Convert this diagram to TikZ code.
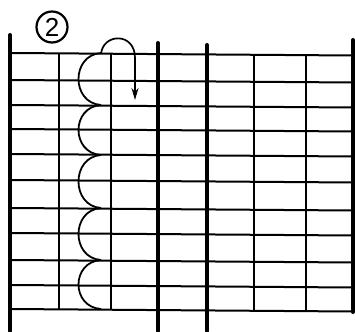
\documentclass[tikz,border=0pt]{standalone}
\usepackage{fontspec}
\setmainfont{Liberation Sans}
\usetikzlibrary{arrows.meta}
\begin{document}
\begin{tikzpicture}[x=1pt,y=-1pt,
  thickline/.style={line width=4pt,line cap=round},
  thinline/.style={line width=2pt},
  scallop/.style={line width=1.8pt},
  loopline/.style={line width=1.7pt,-{Stealth[length=12pt,width=7pt]}}]
\useasboundingbox (0,0) rectangle (355,331);
% horizontal lines (slight slope to the right)
\foreach \y in {53,80,105,129,154,180,208,233,260,285,309}
  \draw[thinline] (10,\y) -- (353,\y+2.5);
% thin verticals on the left
\foreach \x in {59,111}
  \draw[thinline] (\x,{53+2.5*(\x-10)/343}) -- (\x,{309+2.5*(\x-10)/343});
% thin verticals on the right
\foreach \x in {254,306}
  \draw[thinline] (\x,{53+2.5*(\x-10)/343}) -- (\x,{309+2.5*(\x-10)/343});
% thick verticals
\draw[thickline] (10,35) -- (10,331);
\draw[thickline] (158,43) -- (158,331);
\draw[thickline] (207,45) -- (207,331);
\draw[thickline] (353,40) -- (353,312);
% scallops
\foreach \a/\b in {53/105,105/155,155/208,208/260,260/309}
  \draw[scallop] (101,\a) .. controls (71,\a+2) and (71,\b-2) .. (101,\b);
% looping arrow
\draw[loopline] (101,54) .. controls (103,33) and (135,32) .. (135,58) -- (135,100);
% circled number
\node[draw,circle,line width=2.2pt,minimum size=31pt,inner sep=0pt,font=\fontsize{26}{26}\selectfont] (num) at (52,27) {2};
\end{tikzpicture}
\end{document}
